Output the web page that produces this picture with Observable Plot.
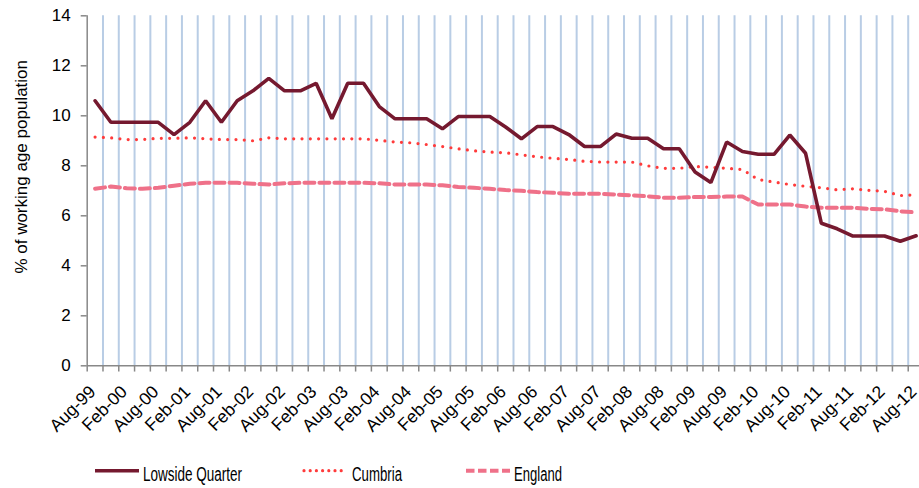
<!DOCTYPE html>
<html>
<head>
<meta charset="utf-8">
<script src="https://cdn.jsdelivr.net/npm/d3@7"></script>
<script src="https://cdn.jsdelivr.net/npm/@observablehq/plot@0.6"></script>
<style>
  html, body { margin: 0; padding: 0; background: #fff; }
  #chart svg { display: block; }
  #legend { display: block; }
</style>
</head>
<body>
<div id="chart"></div>
<svg id="legend" width="919" height="40"></svg>
<script>
// Quarterly categories Aug-99 .. Aug-12
const quarters = ["Aug-99","Nov-99","Feb-00","May-00","Aug-00","Nov-00","Feb-01","May-01","Aug-01","Nov-01",
  "Feb-02","May-02","Aug-02","Nov-02","Feb-03","May-03","Aug-03","Nov-03","Feb-04","May-04",
  "Aug-04","Nov-04","Feb-05","May-05","Aug-05","Nov-05","Feb-06","May-06","Aug-06","Nov-06",
  "Feb-07","May-07","Aug-07","Nov-07","Feb-08","May-08","Aug-08","Nov-08","Feb-09","May-09",
  "Aug-09","Nov-09","Feb-10","May-10","Aug-10","Nov-10","Feb-11","May-11","Aug-11","Nov-11",
  "Feb-12","May-12","Aug-12"];

const lowside = [10.6,9.74,9.74,9.74,9.74,9.25,9.74,10.6,9.74,10.6,
  11.0,11.5,11.0,11.0,11.3,9.88,11.3,11.3,10.37,9.88,
  9.88,9.88,9.48,9.97,9.97,9.97,9.55,9.08,9.57,9.57,
  9.25,8.77,8.77,9.27,9.1,9.1,8.68,8.68,7.75,7.33,
  8.95,8.57,8.46,8.46,9.23,8.5,5.7,5.48,5.19,5.19,
  5.19,4.98,5.2];

const cumbria = [9.15,9.12,9.05,9.05,9.1,9.1,9.12,9.08,9.05,9.05,
  9.0,9.12,9.08,9.08,9.08,9.08,9.08,9.08,9.02,8.95,
  8.92,8.85,8.77,8.68,8.6,8.55,8.52,8.44,8.36,8.3,
  8.25,8.18,8.15,8.15,8.15,8.0,7.9,7.9,7.97,7.94,
  7.9,7.85,7.45,7.35,7.25,7.18,7.12,7.04,7.08,7.02,
  6.98,6.81,6.84];

const england = [7.08,7.17,7.1,7.08,7.12,7.2,7.28,7.32,7.32,7.32,
  7.28,7.25,7.3,7.32,7.32,7.32,7.32,7.32,7.3,7.25,
  7.25,7.25,7.22,7.15,7.12,7.08,7.03,7.0,6.95,6.92,
  6.88,6.88,6.88,6.85,6.82,6.78,6.72,6.72,6.75,6.75,
  6.77,6.77,6.45,6.45,6.45,6.37,6.32,6.32,6.32,6.28,
  6.26,6.18,6.14];

const yTicks = [0,2,4,6,8,10,12,14];
const seriesNames = ["Lowside Quarter","Cumbria","England"];
const yTitle = "% of working age population";

const idx = quarters.map((d, i) => i);
const labelIdx = idx.filter(i => i % 2 === 0);
const bounds = d3.range(-0.5, quarters.length, 1);   // category boundaries
const innerBounds = bounds.slice(1);
const toRows = arr => arr.map((v, i) => ({i, v}));

const FONT = "'Liberation Sans', Arial, sans-serif";
const axisGray = "#888888";

const plot = Plot.plot({
  width: 919,
  height: 448,
  marginLeft: 86.7,
  marginRight: -4.5,
  marginTop: 15.3,
  marginBottom: 82.7,
  style: {fontFamily: FONT, fontSize: "17px", color: "#000", background: "#fff"},
  x: {type: "linear", domain: [-0.5, quarters.length - 0.5], range: [86.7, 923.5], axis: null},
  y: {domain: [0, 14], range: [365.3, 15.3], axis: null},
  marks: [
    // vertical gridlines at category boundaries
    Plot.ruleX(innerBounds, {x: d => d, y1: 0, y2: 14, stroke: "#B9CDE5", strokeWidth: 2}),
    // x axis tick marks
    Plot.ruleX(bounds, {x: d => d, y1: 0, y2: -0.25, stroke: axisGray, strokeWidth: 1.5}),
    // y axis tick marks
    Plot.ruleY(yTicks, {y: d => d, x1: -0.88, x2: -0.5, stroke: axisGray, strokeWidth: 1.5}),
    // axis lines
    Plot.ruleY([0], {x1: -0.5, x2: quarters.length - 0.5, stroke: axisGray, strokeWidth: 1.5}),
    Plot.ruleX([-0.5], {y1: 0, y2: 14, stroke: axisGray, strokeWidth: 1.5}),
    // y tick labels
    Plot.text(yTicks, {x: -0.5, y: d => d, text: d => String(d), textAnchor: "end", dx: -16.5, fontSize: 17, fill: "#000"}),
    // x tick labels
    Plot.text(labelIdx, {x: d => d, y: 0, text: d => quarters[d], rotate: -45, textAnchor: "end", lineAnchor: "middle", dx: -2.5, dy: 23, fontSize: 17.5, fill: "#000"}),
    // y axis title
    Plot.text([yTitle], {frameAnchor: "left", text: d => d, rotate: -90, textAnchor: "middle", lineAnchor: "middle", dx: -65.7, dy: -24, fontSize: 17, fill: "#000"}),
    // series
    Plot.line(toRows(england), {x: "i", y: "v", stroke: "#EF7189", strokeWidth: 4, strokeDasharray: "10,5"}),
    Plot.line(toRows(cumbria), {x: "i", y: "v", stroke: "#FF3B3B", strokeWidth: 3.2, strokeDasharray: "0,8.3", strokeLinecap: "round"}),
    Plot.line(toRows(lowside), {x: "i", y: "v", stroke: "#75192F", strokeWidth: 3.6, strokeLinejoin: "miter"})
  ]
});
document.getElementById("chart").appendChild(plot);

// Legend below the plot
const legendStyles = [
  {stroke: "#75192F", width: 3.6, dash: null, cap: "butt", x0: 95, x1: 139, tx: 143, tl: 99},
  {stroke: "#FF3B3B", width: 3.2, dash: "0,6.2", cap: "round", x0: 304, x1: 347, tx: 352, tl: 50},
  {stroke: "#EF7189", width: 4, dash: "8.5,3.5", cap: "butt", x0: 466, x1: 510, tx: 514, tl: 48}
];
const lg = d3.select("#legend");
seriesNames.forEach((name, k) => {
  const s = legendStyles[k];
  lg.append("line")
    .attr("x1", s.x0).attr("x2", s.x1).attr("y1", 22.7).attr("y2", 22.7)
    .attr("stroke", s.stroke).attr("stroke-width", s.width)
    .attr("stroke-linecap", s.cap)
    .attr("stroke-dasharray", s.dash);
  lg.append("text")
    .attr("x", s.tx).attr("y", 32.5)
    .attr("font-family", FONT).attr("font-size", 20)
    .attr("textLength", s.tl).attr("lengthAdjust", "spacingAndGlyphs")
    .text(name);
});
</script>
</body>
</html>
